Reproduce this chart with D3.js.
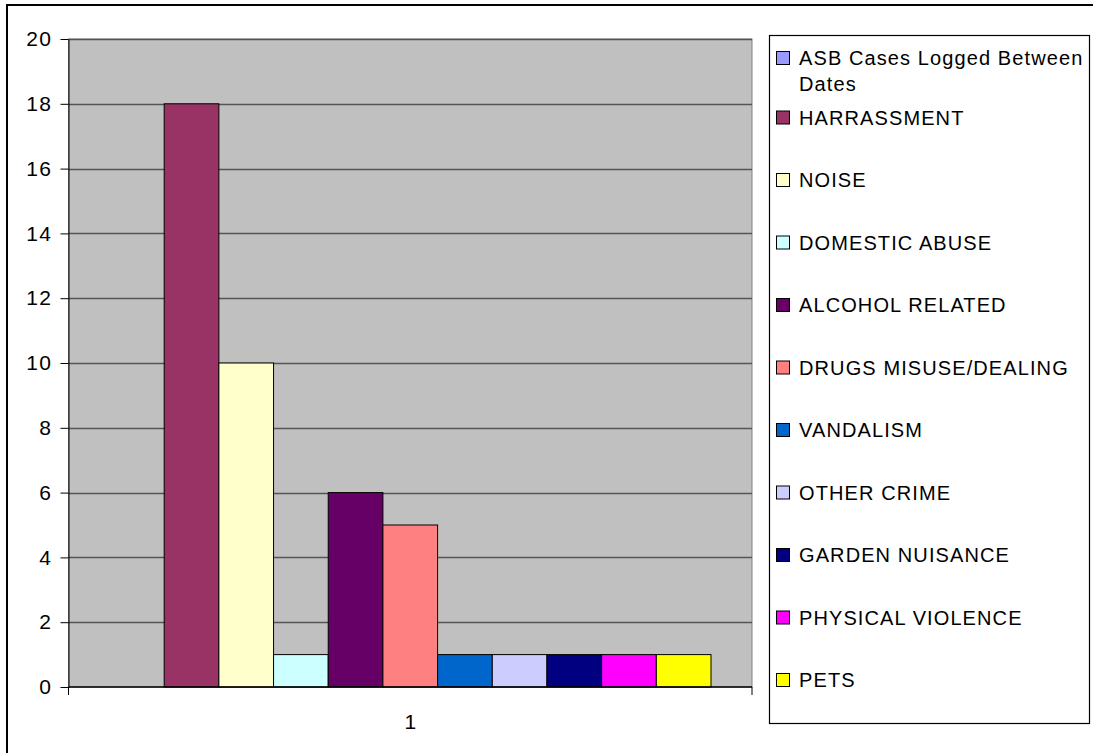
<!DOCTYPE html>
<html>
<head>
<meta charset="utf-8">
<script src="https://d3js.org/d3.v7.min.js"></script>
<style>
  body { margin: 0; background: #fff; }
  svg text { font-family: Arial, "Liberation Sans", sans-serif; fill: #000; }
</style>
</head>
<body>
<div id="chart"></div>
<script>
// data
var categories = ["1"];
var seriesNames = [
  "ASB Cases Logged Between Dates",
  "HARRASSMENT",
  "NOISE",
  "DOMESTIC ABUSE",
  "ALCOHOL RELATED",
  "DRUGS MISUSE/DEALING",
  "VANDALISM",
  "OTHER CRIME",
  "GARDEN NUISANCE",
  "PHYSICAL VIOLENCE",
  "PETS"
];
var seriesValues = [0, 18, 10, 1, 6, 5, 1, 1, 1, 1, 1];
var seriesColors = ["#9999FF", "#993366", "#FFFFCC", "#CCFFFF", "#660066", "#FF8080",
  "#0066CC", "#CCCCFF", "#000080", "#FF00FF", "#FFFF00"];
var yTicks = [0, 2, 4, 6, 8, 10, 12, 14, 16, 18, 20];

var W = 1093, H = 753;
var plot = { left: 68.5, top: 39, right: 752, bottom: 687 };

var svg = d3.select("#chart")
  .append("svg")
  .attr("width", W)
  .attr("height", H);

// chart border (runs off the right / bottom edge)
svg.append("rect")
  .attr("x", 7).attr("y", 5)
  .attr("width", 1100).attr("height", 760)
  .attr("fill", "#fff")
  .attr("stroke", "#000")
  .attr("stroke-width", 2);

// scales
var y = d3.scaleLinear().domain([0, 20]).range([plot.bottom, plot.top]);

// excel gap width 150% -> outer padding of 0.75 bar on each side
var x = d3.scaleBand()
  .domain(categories)
  .range([plot.left, plot.right])
  .paddingInner(0)
  .paddingOuter(1.5 / seriesNames.length / 2);

var xs = d3.scaleBand()
  .domain(seriesNames)
  .range([0, x.bandwidth()])
  .padding(0);

// plot background
svg.append("rect")
  .attr("x", plot.left).attr("y", plot.top)
  .attr("width", plot.right - plot.left)
  .attr("height", plot.bottom - plot.top)
  .attr("fill", "#C0C0C0")
  .attr("stroke", "#808080")
  .attr("stroke-width", 1);

// gridlines
svg.append("g")
  .selectAll("line")
  .data(yTicks.filter(function (d) { return d > 0; }))
  .join("line")
  .attr("x1", plot.left).attr("x2", plot.right)
  .attr("y1", function (d) { return Math.round(y(d)) + 0.5; })
  .attr("y2", function (d) { return Math.round(y(d)) + 0.5; })
  .attr("stroke", "#555")
  .attr("stroke-width", 1.5);

// bars
svg.append("g")
  .selectAll("rect")
  .data(seriesNames.map(function (name, i) {
    return { name: name, value: seriesValues[i], color: seriesColors[i], cat: categories[0] };
  }).filter(function (d) { return d.value > 0; }))
  .join("rect")
  .attr("x", function (d) { return x(d.cat) + xs(d.name); })
  .attr("y", function (d) { return y(d.value); })
  .attr("width", xs.bandwidth())
  .attr("height", function (d) { return y(0) - y(d.value); })
  .attr("fill", function (d) { return d.color; })
  .attr("stroke", "#000")
  .attr("stroke-width", 1);

// y axis
var yAxis = svg.append("g")
  .attr("transform", "translate(" + plot.left + ",0)")
  .call(d3.axisLeft(y).tickValues(yTicks).tickSize(8).tickSizeOuter(0).tickPadding(8));
yAxis.select(".domain").attr("stroke", "#000");
yAxis.selectAll(".tick line").attr("stroke", "#000");
yAxis.selectAll("text")
  .style("font-size", "21px")
  .style("letter-spacing", "1.5px");

// x axis: ticks at the category boundaries
svg.append("line")
  .attr("x1", plot.left).attr("x2", plot.right)
  .attr("y1", plot.bottom).attr("y2", plot.bottom)
  .attr("stroke", "#000").attr("stroke-width", 1.5);
svg.append("g")
  .selectAll("line")
  .data([plot.left, plot.right])
  .join("line")
  .attr("x1", function (d) { return d; }).attr("x2", function (d) { return d; })
  .attr("y1", plot.bottom).attr("y2", plot.bottom + 8)
  .attr("stroke", "#000");
svg.append("g")
  .selectAll("text")
  .data(categories)
  .join("text")
  .attr("x", function (d) { return x(d) + x.bandwidth() / 2; })
  .attr("y", 729)
  .attr("text-anchor", "middle")
  .style("font-size", "21px")
  .text(function (d) { return d; });

// legend
var legend = svg.append("g");
legend.append("rect")
  .attr("x", 769.5).attr("y", 35.5)
  .attr("width", 320).attr("height", 688)
  .attr("fill", "#fff")
  .attr("stroke", "#000")
  .attr("stroke-width", 1.2);

var rowY = d3.scaleLinear().domain([1, 10]).range([117.5, 680]);
var items = legend.selectAll("g.item")
  .data(seriesNames)
  .join("g")
  .attr("class", "item")
  .attr("transform", function (d, i) {
    return "translate(776," + (i === 0 ? 58 : rowY(i)) + ")";
  });
items.append("rect")
  .attr("x", 0.5).attr("y", -6.5)
  .attr("width", 13).attr("height", 13)
  .attr("fill", function (d, i) { return seriesColors[i]; })
  .attr("stroke", "#000");
items.append("text")
  .attr("x", 23)
  .attr("dy", "0.35em")
  .style("font-size", "20px")
  .style("letter-spacing", "1.1px")
  .each(function (d, i) {
    var t = d3.select(this);
    if (i === 0) {
      t.append("tspan").attr("x", 23).text("ASB Cases Logged Between");
      t.append("tspan").attr("x", 23).attr("dy", 26).text("Dates");
    } else {
      t.text(d);
    }
  });
</script>
</body>
</html>
